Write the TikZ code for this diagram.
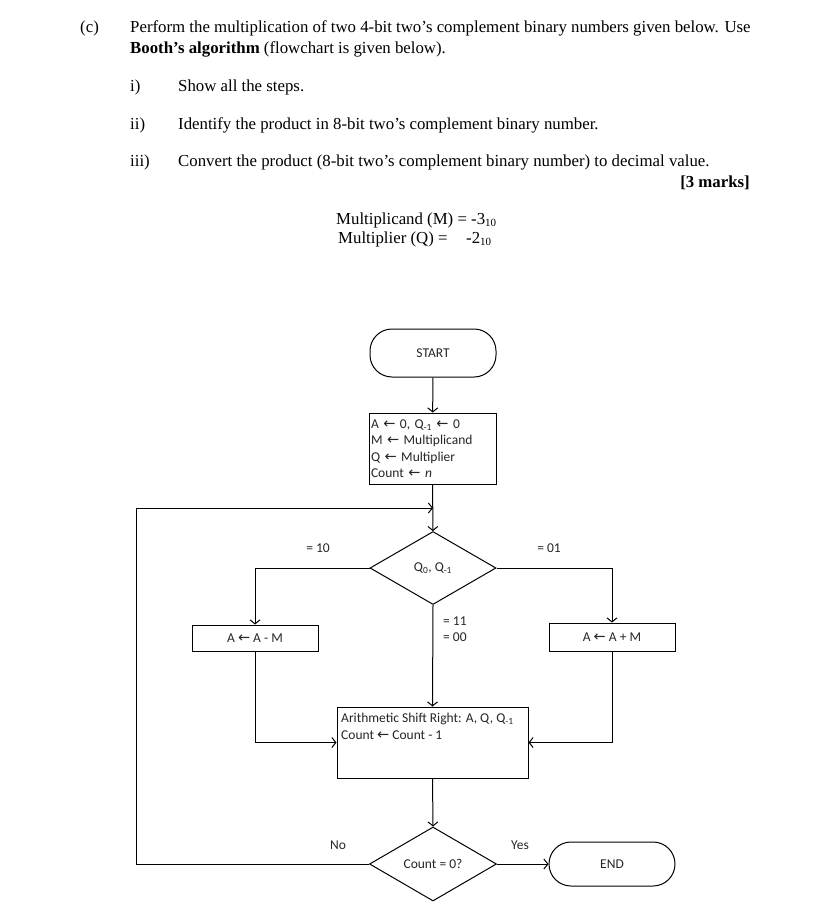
\documentclass[tikz,border=0pt]{standalone}
\usepackage{fontspec}
\setmainfont{Liberation Serif}
\newfontfamily\fc{Carlito}
\newfontfamily\arf{DejaVu Sans}
\usetikzlibrary{arrows.meta,shapes.geometric}
\newcommand{\mysub}[1]{\raisebox{-0.3ex}{\fontsize{11}{11}\selectfont #1}}
\newcommand{\la}{{\arf\fontsize{14.5}{11}\selectfont ←}}
\begin{document}
\begin{tikzpicture}[x=1pt,y=-1pt,
  txt/.style={font=\fontsize{16.8}{19}\selectfont, inner sep=0pt, anchor=base west},
  fl/.style={font=\fc\fontsize{13.5}{16.5}\selectfont, inner sep=0pt, text=black!85},
  box/.style={draw, line width=1pt, fl},
  term/.style={box, rounded corners=22pt},
  dia/.style={box, diamond, aspect=1.7},
  arr/.style={-{Straight Barb[length=4pt,width=10pt]}, line width=1pt}]
\useasboundingbox (0,0) rectangle (828,907);
\fill[white] (0,0) rectangle (828,907);

% question text
\node[txt] (c) at (80,33) {(c)};
\node[txt] (l1) at (130,33) {Perform the multiplication of two 4-bit two’s complement binary numbers given below. Use};
\node[txt] (l2) at (130,53) {\textbf{Booth’s algorithm} (flowchart is given below).};
\node[txt] (r1) at (130,91) {i)};
\node[txt] (t1) at (178,91) {Show all the steps.};
\node[txt] (r2) at (130,129) {ii)};
\node[txt] (t2) at (178,129) {Identify the product in 8-bit two’s complement binary number.};
\node[txt] (r3) at (130,166) {iii)};
\node[txt] (t3) at (178,166) {Convert the product (8-bit two’s complement binary number) to decimal value.};
\node[txt, anchor=base east] (mk) at (750,187) {\textbf{[3 marks]}};
\node[txt] (mc) at (336,224) {Multiplicand (M) = -3\mysub{10}};
\node[txt] (mq) at (338,243) {Multiplier (Q) =};
\node[txt] (mq2) at (466,243) {-2\mysub{10}};

% flowchart
\node[term, minimum width=126pt, minimum height=48pt] (start) at (433,353) {START};
\node[box, minimum width=127pt, minimum height=71pt, text width=123pt, align=left] (init) at (432.5,448.5)
  {A \la\ 0, Q\textsubscript{-1} \la\ 0\\M \la\ Multiplicand\\Q \la\ Multiplier\\Count \la\ \textit{n}};
\node[dia, minimum width=126pt, minimum height=73pt] (d1) at (433,568) {Q\textsubscript{0}, Q\textsubscript{-1}};
\node[box, minimum width=126pt, minimum height=26pt] (asub) at (255,638) {A \la\ A - M};
\node[box, minimum width=126pt, minimum height=28pt] (aadd) at (612,637) {A \la\ A + M};
\node[box, minimum width=191pt, minimum height=71pt] (shift) at (432.5,742.5) {};
\node[fl, anchor=north west, align=left] (shifttxt) at (341,713) {Arithmetic Shift Right: A, Q, Q\textsubscript{-1}\\Count \la\ Count - 1};
\node[dia, minimum width=127pt, minimum height=74pt] (d2) at (433,864) {Count = 0?};
\node[term, minimum width=126pt, minimum height=44pt] (end) at (612,864) {END};

\coordinate (lp) at (136,508);
\coordinate (jn) at (433,508);

\draw[arr] (start) -- (init);
\draw[arr] (init) -- (d1);
\draw[arr] (d2.west) -| (lp) -- (jn);
\draw[arr] (d1.west) -| (asub.north);
\draw[arr] (d1.east) -| (aadd.north);
\draw[arr] (d1.south) -- (shift.north);
\draw[arr] (asub.south) |- (shift.west);
\draw[arr] (aadd.south) |- (shift.east);
\draw[arr] (shift.south) -- (d2.north);
\draw[arr] (d2.east) -- (end.west);

% labels
\node[fl] (l10) at (318,548) {= 10};
\node[fl] (l01) at (549,548) {= 01};
\node[fl, anchor=west] (l11) at (443,621) {= 11};
\node[fl, anchor=west] (l00) at (443,637) {= 00};
\node[fl] (lno) at (338,845) {No};
\node[fl] (lyes) at (520,845) {Yes};
\end{tikzpicture}
\end{document}
